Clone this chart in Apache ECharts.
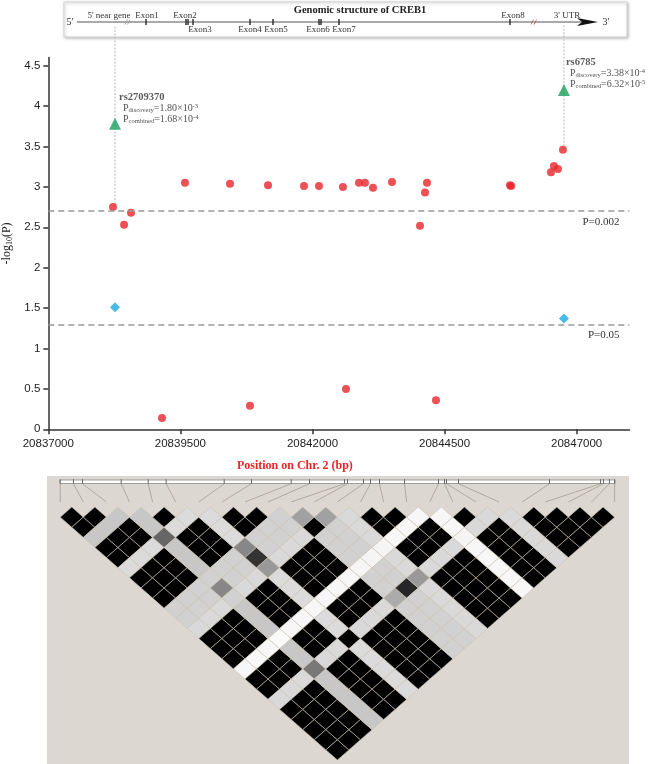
<!DOCTYPE html>
<html><head><meta charset="utf-8">
<script src="https://cdn.jsdelivr.net/npm/echarts@6/dist/echarts.min.js"></script>
<style>html,body{margin:0;padding:0;background:#fff}#c{width:651px;height:764px}</style>
</head><body><div id="c"></div>
<script>
// ---------- association data ----------
const snpPos = [20838224, 20838434, 20838565, 20839152, 20839587, 20840439, 20840817, 20841158, 20841840, 20842123, 20842577, 20842634, 20842880, 20842994, 20843145, 20843505, 20844035, 20844130, 20844167, 20844337, 20845738, 20845760, 20846513, 20846570, 20846646, 20846740];
const snpLogP = [2.75, 2.53, 2.68, 0.14, 3.05, 3.04, 0.29, 3.02, 3.01, 3.01, 3.00, 0.50, 3.05, 3.05, 2.99, 3.06, 2.52, 2.93, 3.05, 0.36, 3.02, 3.01, 3.18, 3.26, 3.22, 3.46];
const replPos = [20838263, 20846759];
const replLogP = [1.51, 1.37];
const topPos = [20838263, 20846759];
const topLogP = [3.78, 4.20];
const topNames = ['rs2709370', 'rs6785'];
const topDiscMant = ['1.80', '3.38'];
const topDiscExp = ['-3', '-4'];
const topCombMant = ['1.68', '6.32'];
const topCombExp = ['-4', '-5'];
const linkFromLogP = [2.75, 3.46];
const thresholdP = [0.002, 0.05];
const thresholdLabels = ['P=0.002', 'P=0.05'];
const xTicks = [20837000, 20839500, 20842000, 20844500, 20847000];
const yTicks = [0, 0.5, 1, 1.5, 2, 2.5, 3, 3.5, 4, 4.5];

// ---------- LD (r2 x 100) ----------
const ldSnpPos = [20838224, 20838428, 20838567, 20839161, 20839576, 20839852, 20840743, 20841163, 20841772, 20842054, 20842591, 20842637, 20842883, 20842990, 20843129, 20843513, 20844035, 20844127, 20844158, 20844342, 20845740, 20846523, 20846569, 20846661, 20846740];
const ldR2 = [
  [100,100,22,100,100,14,100,100,100,18,18,15,100,100,100,3,100,100,15,100,100,100,100,100],
  [100,22,100,100,14,100,100,100,18,18,15,100,100,100,3,100,100,15,100,100,100,100,100],
  [22,100,100,14,100,100,100,18,18,15,100,100,100,3,100,100,15,100,100,100,100,100],
  [22,22,60,22,22,22,18,47,18,22,22,22,2,22,22,53,22,22,22,22,22],
  [100,14,100,100,100,18,18,15,100,100,100,3,100,100,15,100,100,100,100,100],
  [14,100,100,100,18,18,15,100,100,100,3,100,100,15,100,100,100,100,100],
  [14,14,14,47,80,40,14,14,14,3,14,14,100,14,14,14,14,14],
  [100,100,18,18,15,100,100,100,3,100,100,15,100,100,100,100,100],
  [100,18,18,15,100,100,100,3,100,100,15,100,100,100,100,100],
  [18,18,15,100,100,100,3,100,100,15,100,100,100,100,100],
  [37,100,18,18,18,4,18,18,33,18,18,18,18,18],
  [37,18,18,18,4,18,18,85,18,18,18,18,18],
  [15,15,15,4,15,15,40,15,15,15,15,15],
  [100,100,3,100,100,15,100,100,100,100,100],
  [100,3,100,100,15,100,100,100,100,100],
  [3,100,100,15,100,100,100,100,100],
  [3,3,4,3,3,3,3,3],
  [100,15,100,100,100,100,100],
  [15,100,100,100,100,100],
  [15,15,15,15,15],
  [100,100,100,100],
  [100,100,100],
  [100,100],
  [100]
];

const SERIF = '"Liberation Serif", "DejaVu Serif", serif';
const SANS = '"Liberation Sans", Arial, sans-serif';

const ldCells = [];
ldR2.forEach((row, i) => row.forEach((v, k) => ldCells.push([i, i + 1 + k, v])));
const ldLinks = ldSnpPos.map((bp, k) => [k, bp]);
const nLD = ldSnpPos.length - 1;

function renderCell(params, api) {
  const i = api.value(0), j = api.value(1), v = api.value(2);
  const xc = (i + j) / 2, d = j - i;
  const pts = [api.coord([xc, d - 1]), api.coord([xc + 0.5, d]), api.coord([xc, d + 1]), api.coord([xc - 0.5, d])];
  const g = Math.round(255 * (1 - v / 100));
  return { type: 'polygon', shape: { points: pts },
    style: { fill: 'rgb(' + g + ',' + g + ',' + g + ')', stroke: '#cdc3b2', lineWidth: 0.6 } };
}
function renderLink(params, api) {
  const k = api.value(0), bp = api.value(1);
  const xb = (bp - ldSnpPos[0]) / (ldSnpPos[nLD] - ldSnpPos[0]) * nLD;
  const a = api.coord([xb, -2.3]);
  const b = api.coord([k, -0.5]);
  const t1 = api.coord([xb, -2.75]);
  return { type: 'group', children: [
    { type: 'line', shape: { x1: a[0], y1: a[1], x2: b[0], y2: b[1] }, style: { stroke: '#a39d93', lineWidth: 0.8 } },
    { type: 'line', shape: { x1: t1[0], y1: t1[1], x2: a[0], y2: a[1] }, style: { stroke: '#666', lineWidth: 1 } }
  ] };
}
function renderGuide(params, api) {
  const x = api.value(0), y = api.value(1);
  const p1 = api.coord([x, y]);
  const p2 = api.coord([x, 5.0]);
  return { type: 'line', shape: { x1: p1[0], y1: p1[1], x2: p2[0], y2: p2[1] },
    style: { stroke: '#b8b8b8', lineWidth: 1, lineDash: [2, 1.5] } };
}

const labelOffsets = [[10, -27], [8, -28]];
const greenData = topPos.map((x, k) => ({
  value: [x, topLogP[k]],
  label: {
    show: true, position: labelOffsets[k], align: 'left', verticalAlign: 'top',
    formatter: '{n|' + topNames[k] + '}\n{p0|P}{sub|discovery}{p|=' + topDiscMant[k] + '×10}{sup|' + topDiscExp[k] + '}\n{p0|P}{sub|combined}{p|=' + topCombMant[k] + '×10}{sup|' + topCombExp[k] + '}',
    rich: {
      n: { fontFamily: SERIF, fontSize: 10.5, fontWeight: 'bold', color: '#333', lineHeight: 12 },
      p0: { fontFamily: SERIF, fontSize: 10, color: '#222', lineHeight: 11, padding: [0, 0, 0, 4] },
      p: { fontFamily: SERIF, fontSize: 10, color: '#222', lineHeight: 11 },
      sub: { fontFamily: SERIF, fontSize: 6.5, color: '#222', lineHeight: 7, verticalAlign: 'bottom' },
      sup: { fontFamily: SERIF, fontSize: 6.5, color: '#222', lineHeight: 7, verticalAlign: 'top' }
    }
  }
}));

const exons = [
  { x: [146], label: 'Exon1', lx: 147, ly: 16 },
  { x: [186, 188], label: 'Exon2', lx: 185, ly: 16 },
  { x: [193], label: 'Exon3', lx: 200, ly: 30 },
  { x: [250], label: 'Exon4', lx: 250, ly: 30 },
  { x: [273], label: 'Exon5', lx: 276, ly: 30 },
  { x: [319, 321], label: 'Exon6', lx: 318, ly: 30 },
  { x: [339], label: 'Exon7', lx: 344, ly: 30 },
  { x: [510], label: 'Exon8', lx: 513, ly: 16 }
];
const geneGraphics = [
  { type: 'rect', shape: { x: 64, y: 2, width: 563, height: 35 }, style: { fill: '#fff', stroke: '#d4d4d4', lineWidth: 1, shadowBlur: 3, shadowOffsetX: 1, shadowOffsetY: 1, shadowColor: 'rgba(0,0,0,0.25)' }, z: 1 },
  { type: 'line', shape: { x1: 77, y1: 22, x2: 584, y2: 22 }, style: { stroke: '#555', lineWidth: 1 }, z: 2 },
  { type: 'polygon', shape: { points: [[577, 18], [598, 22], [577, 26], [582, 22]] }, style: { fill: '#111' }, z: 2 },
  { type: 'text', style: { text: "5'", x: 70, y: 22, font: '10px ' + SERIF, fill: '#333', align: 'center', verticalAlign: 'middle' }, z: 2 },
  { type: 'text', style: { text: "3'", x: 606, y: 22, font: '10px ' + SERIF, fill: '#333', align: 'center', verticalAlign: 'middle' }, z: 2 },
  { type: 'text', style: { text: 'Genomic structure of CREB1', x: 360, y: 10, font: 'bold 10.5px ' + SERIF, fill: '#222', align: 'center', verticalAlign: 'middle' }, z: 2 },
  { type: 'text', style: { text: "5' near gene", x: 109, y: 16, font: '9px ' + SERIF, fill: '#333', align: 'center', verticalAlign: 'middle' }, z: 2 },
  { type: 'text', style: { text: "3' UTR", x: 567, y: 16, font: '9px ' + SERIF, fill: '#333', align: 'center', verticalAlign: 'middle' }, z: 2 },
  { type: 'line', shape: { x1: 125, y1: 24.5, x2: 127.5, y2: 19.5 }, style: { stroke: '#999', lineWidth: 0.8 }, z: 3 },
  { type: 'line', shape: { x1: 127.5, y1: 24.5, x2: 130, y2: 19.5 }, style: { stroke: '#999', lineWidth: 0.8 }, z: 3 },
  { type: 'line', shape: { x1: 531, y1: 24.5, x2: 533.5, y2: 19.5 }, style: { stroke: '#c05555', lineWidth: 0.8 }, z: 3 },
  { type: 'line', shape: { x1: 534, y1: 24.5, x2: 536.5, y2: 19.5 }, style: { stroke: '#c05555', lineWidth: 0.8 }, z: 3 }
];
exons.forEach(e => {
  e.x.forEach(x => geneGraphics.push({ type: 'rect', shape: { x: x - 0.75, y: 19, width: 1.5, height: 6 }, style: { fill: '#333' }, z: 3 }));
  geneGraphics.push({ type: 'text', style: { text: e.label, x: e.lx, y: e.ly, font: '9px ' + SERIF, fill: '#333', align: 'center', verticalAlign: 'middle' }, z: 2 });
});
// LD panel background & SNP bar
geneGraphics.push({ type: 'rect', shape: { x: 47, y: 476, width: 582, height: 288 }, style: { fill: '#dcd8d1' }, z: -10 });
geneGraphics.push({ type: 'rect', shape: { x: 60, y: 480, width: 555, height: 3.5 }, style: { fill: '#fff', stroke: '#8e8a84', lineWidth: 0.8 }, z: 5 });

const chart = echarts.init(document.getElementById('c'), null, { renderer: 'canvas' });
chart.setOption({
  animation: false,
  backgroundColor: '#fff',
  graphic: geneGraphics,
  grid: [
    { left: 48.3, right: 21.5, top: 57.6, bottom: 334.7, containLabel: false, outerBoundsMode: 'none' },
    { left: 60.2, right: 36.4, top: 479.7, bottom: 4, containLabel: false, outerBoundsMode: 'none' }
  ],
  xAxis: [
    { gridIndex: 0, type: 'value', min: 20837000, max: 20848000,
      name: 'Position on Chr. 2 (bp)', nameLocation: 'middle', nameGap: 31,
      nameTextStyle: { color: '#e8262a', fontFamily: SERIF, fontWeight: 'bold', fontSize: 12, padding: [0, 88, 0, 0] },
      axisLine: { lineStyle: { color: '#333', width: 1.5 } },
      axisTick: { length: 5, customValues: xTicks, lineStyle: { color: '#333', width: 1.5 } },
      axisLabel: { customValues: xTicks, formatter: v => String(v), color: '#222', fontFamily: SANS, fontSize: 11.5, margin: 9 },
      splitLine: { show: false } },
    { gridIndex: 1, type: 'value', min: 0, max: nLD, show: false }
  ],
  yAxis: [
    { gridIndex: 0, type: 'value', min: 0, max: 4.6,
      name: '{a|-log}{s|10}{a|(P)}', nameLocation: 'middle', nameGap: 26, nameRotate: 90,
      nameTextStyle: { rich: { a: { fontFamily: SERIF, fontSize: 12, color: '#222', lineHeight: 14 }, s: { fontFamily: SERIF, fontSize: 8, color: '#222', lineHeight: 8, verticalAlign: 'bottom' } } },
      axisLine: { show: true, lineStyle: { color: '#333', width: 1.5 } },
      axisTick: { show: true, length: 5, customValues: yTicks, lineStyle: { color: '#333', width: 1.5 } },
      axisLabel: { customValues: yTicks, formatter: v => String(v), color: '#222', fontFamily: SANS, fontSize: 11.5, margin: 8 },
      splitLine: { show: false } },
    { gridIndex: 1, type: 'value', min: -2.7, max: 25, inverse: true, show: false }
  ],
  series: [
    { type: 'custom', xAxisIndex: 0, yAxisIndex: 0, clip: false, silent: true, z: 1,
      renderItem: renderGuide, data: topPos.map((x, k) => [x, linkFromLogP[k]]) },
    { type: 'scatter', xAxisIndex: 0, yAxisIndex: 0, symbol: 'circle', symbolSize: 8, z: 3,
      itemStyle: { color: '#e8262a' }, data: snpPos.map((x, k) => [x, snpLogP[k]]),
      markLine: { silent: true, symbol: 'none', animation: false,
        lineStyle: { color: '#9a9a9a', type: [6, 4], width: 1.5 },
        label: { position: 'insideEndBottom', distance: [10, 5], fontFamily: SERIF, fontSize: 11, color: '#333' },
        data: thresholdP.map((p, k) => ({ yAxis: -Math.log10(p), label: { formatter: thresholdLabels[k] } })) } },
    { type: 'scatter', xAxisIndex: 0, yAxisIndex: 0, symbol: 'diamond', symbolSize: 10, z: 3,
      itemStyle: { color: '#1ba9e1' }, data: replPos.map((x, k) => [x, replLogP[k]]) },
    { type: 'scatter', xAxisIndex: 0, yAxisIndex: 0, symbol: 'triangle', symbolSize: 12, z: 4,
      itemStyle: { color: '#17a05a' }, data: greenData },
    { type: 'custom', xAxisIndex: 1, yAxisIndex: 1, clip: false, silent: true, z: 2,
      renderItem: renderCell, data: ldCells },
    { type: 'custom', xAxisIndex: 1, yAxisIndex: 1, clip: false, silent: true, z: 6,
      renderItem: renderLink, data: ldLinks }
  ]
});
</script></body></html>
